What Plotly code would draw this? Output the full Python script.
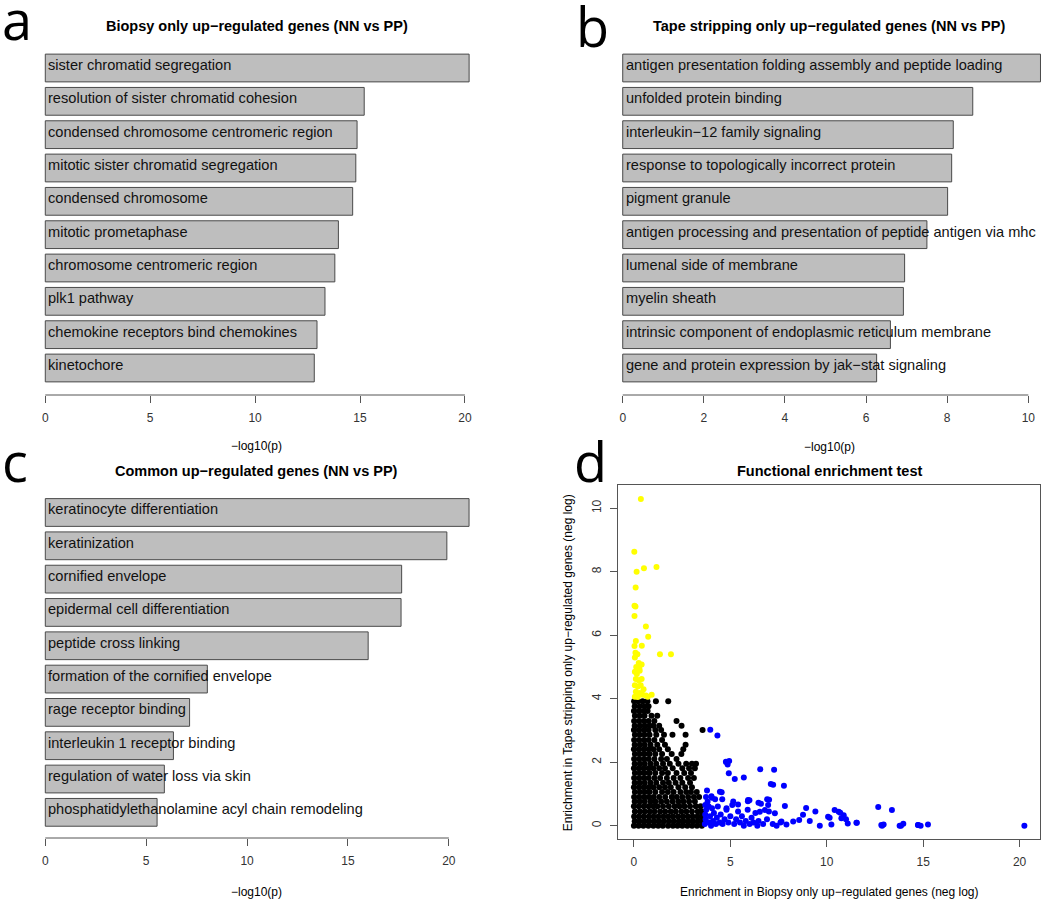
import plotly.graph_objects as go

# ---------------- data ----------------
a_labels = ["sister chromatid segregation", "resolution of sister chromatid cohesion",
            "condensed chromosome centromeric region", "mitotic sister chromatid segregation",
            "condensed chromosome", "mitotic prometaphase", "chromosome centromeric region",
            "plk1 pathway", "chemokine receptors bind chemokines", "kinetochore"]
a_values = [20.2, 15.2, 14.86, 14.8, 14.65, 13.97, 13.8, 13.33, 12.95, 12.82]
a_ticks = [0, 5, 10, 15, 20]

b_labels = ["antigen presentation folding assembly and peptide loading", "unfolded protein binding",
            "interleukin\u221212 family signaling", "response to topologically incorrect protein",
            "pigment granule", "antigen processing and presentation of peptide antigen via mhc",
            "lumenal side of membrane", "myelin sheath",
            "intrinsic component of endoplasmic reticulum membrane",
            "gene and protein expression by jak\u2212stat signaling"]
b_values = [10.3, 8.63, 8.15, 8.11, 8.01, 7.5, 6.95, 6.92, 6.6, 6.26]
b_ticks = [0, 2, 4, 6, 8, 10]

c_labels = ["keratinocyte differentiation", "keratinization", "cornified envelope",
            "epidermal cell differentiation", "peptide cross linking",
            "formation of the cornified envelope", "rage receptor binding",
            "interleukin 1 receptor binding", "regulation of water loss via skin",
            "phosphatidylethanolamine acyl chain remodeling"]
c_values = [21.0, 19.9, 17.66, 17.63, 16.0, 8.03, 7.15, 6.35, 5.9, 5.54]
c_ticks = [0, 5, 10, 15, 20]

d_xticks = [0, 5, 10, 15, 20]
d_yticks = [0, 2, 4, 6, 8, 10]

yellow_pts = [(0.36, 10.29), (0.02, 8.63), (0.14, 8.00), (0.52, 8.11), (1.17, 8.15), (0.09, 7.50),
              (0.03, 6.93), (0.08, 6.90), (0.03, 6.60), (0.62, 6.27), (0.74, 5.95), (0.10, 5.82),
              (0.03, 5.66), (0.41, 5.67), (0.08, 5.45), (0.18, 5.40), (0.05, 5.30), (1.35, 5.40),
              (1.92, 5.40), (0.40, 5.08), (0.25, 5.12), (0.05, 4.85), (0.15, 4.78), (0.30, 4.88),
              (0.10, 4.62), (0.25, 4.58), (0.40, 4.62), (0.05, 4.42), (0.20, 4.38), (0.35, 4.42),
              (0.50, 4.30), (0.10, 4.22), (0.30, 4.18), (0.45, 4.12), (0.62, 4.10), (0.05, 4.06),
              (0.20, 4.05), (0.72, 4.06), (0.92, 4.12), (0.12, 5.00), (0.28, 4.95)]

blue_pts = [(3.96, 3.02), (4.33, 2.84), (4.77, 2.01), (4.94, 2.04), (4.86, 1.93), (4.92, 1.65),
            (5.23, 1.47), (5.70, 1.52), (6.55, 1.78), (7.27, 1.76), (7.10, 1.31), (7.22, 1.29),
            (7.78, 1.26), (3.79, 1.11), (4.55, 1.05), (3.74, 0.90), (4.04, 0.88), (4.21, 0.83),
            (4.58, 0.83), (5.99, 0.80), (5.91, 0.77), (7.01, 0.82), (6.59, 0.69), (7.83, 0.62),
            (8.93, 0.56), (9.41, 0.45), (10.41, 0.49), (10.70, 0.41), (10.88, 0.33), (12.67, 0.59),
            (13.38, 0.49), (10.15, 0.25), (11.00, 0.20), (11.09, 0.07), (11.56, 0.09), (12.87, 0.00),
            (12.95, 0.04), (13.85, 0.00), (13.97, 0.06), (14.74, 0.02), (14.87, 0.00), (15.25, 0.04),
            (20.25, 0.00),
            (3.68, 0.05), (3.72, 0.20), (3.70, 0.35), (3.75, 0.50), (3.70, 0.65), (3.90, 0.10),
            (3.95, 0.30), (4.00, 0.00), (4.10, 0.15), (4.15, 0.40), (4.25, 0.05), (4.30, 0.25),
            (4.45, 0.10), (4.50, 0.35), (3.88, 0.60), (4.05, 0.55), (3.82, 0.75), (4.35, 0.60),
            (4.60, 0.05), (4.70, 0.20), (4.80, 0.50), (4.90, 0.10), (5.00, 0.30), (5.10, 0.65),
            (5.20, 0.05), (5.30, 0.20), (5.40, 0.45), (5.50, 0.10), (5.60, 0.30), (5.70, 0.00),
            (5.80, 0.15), (5.90, 0.50), (6.00, 0.05), (6.10, 0.25), (6.20, 0.10), (6.30, 0.40),
            (6.40, 0.00), (6.46, 0.15), (6.46, 0.72), (6.91, 0.83), (6.96, 0.65), (6.70, 0.05),
            (6.90, 0.20), (7.00, 0.45), (7.20, 0.05), (7.40, 0.00), (7.60, 0.10), (7.65, 0.13),
            (7.91, 0.04), (8.26, 0.13), (8.57, 0.18), (8.77, 0.34), (9.12, 0.15), (9.64, 0.00),
            (10.07, 0.28), (10.24, 0.04), (10.62, 0.44), (10.76, 0.23), (11.54, 0.09), (12.83, 0.02),
            (13.78, 0.00), (14.73, 0.02), (5.15, 0.76), (5.40, 0.67), (5.92, 0.81), (6.53, 0.44),
            (6.79, 0.49), (7.31, 0.39), (4.80, 0.55), (4.46, 1.07), (4.02, 0.93)]

black_row_y = [0.00, 0.14, 0.29, 0.45, 0.61, 0.76, 0.90, 1.06, 1.21, 1.35, 1.50, 1.66, 1.81, 1.95,
               2.10, 2.26, 2.41, 2.55, 2.70, 2.86, 3.01, 3.15, 3.30, 3.46, 3.61, 3.76, 3.92]
black_row_x = [
    [0.00, 0.24, 0.49, 0.75, 1.01, 1.26, 1.50, 1.77, 2.02, 2.26, 2.51, 2.77, 3.02, 3.27, 3.52],
    [0.04, 0.29, 0.55, 0.80, 1.06, 1.31, 1.56, 1.82, 2.07, 2.33, 2.57, 2.83, 3.08, 3.33, 3.56],
    [0.01, 0.26, 0.51, 0.77, 1.02, 1.27, 1.53, 1.78, 2.03, 2.29, 2.54, 2.79, 3.04, 3.29, 3.50],
    [0.05, 0.31, 0.56, 0.82, 1.07, 1.36, 1.62, 1.91, 2.17, 2.46, 2.72, 3.01, 3.31, 3.52],
    [0.00, 0.25, 0.51, 0.76, 1.01, 1.22, 1.51, 1.81, 2.11, 2.36, 2.62, 2.91, 3.21, 3.46],
    [0.04, 0.30, 0.56, 0.86, 1.11, 1.41, 1.71, 2.01, 2.31, 2.57, 2.86, 3.16],
    [0.01, 0.26, 0.51, 0.76, 1.02, 1.31, 1.62, 1.96, 2.22, 2.51, 2.81, 3.11, 3.38],
    [0.05, 0.31, 0.56, 0.81, 1.11, 1.46, 1.76, 2.06, 2.41, 2.71, 2.96, 3.26],
    [0.00, 0.26, 0.51, 0.76, 1.01, 1.31, 1.61, 1.91, 2.31, 2.66, 3.01],
    [0.04, 0.30, 0.56, 0.86, 1.16, 1.51, 1.81, 2.16, 2.51, 2.91],
    [0.01, 0.26, 0.51, 0.76, 1.06, 1.36, 1.71, 2.06, 2.41, 2.81, 3.11],
    [0.05, 0.30, 0.55, 0.81, 1.11, 1.46, 1.76, 2.21, 2.61, 2.96],
    [0.00, 0.25, 0.50, 0.76, 1.01, 1.31, 1.61, 2.01, 2.51, 2.86, 3.16],
    [0.04, 0.31, 0.56, 0.86, 1.16, 1.51, 1.86, 2.31, 2.71, 3.01, 3.22],
    [0.01, 0.26, 0.51, 0.76, 1.06, 1.41, 1.71, 2.21],
    [0.05, 0.30, 0.55, 0.81, 1.11, 1.46, 1.96, 2.46],
    [0.00, 0.25, 0.51, 0.76, 1.01, 1.31, 1.76, 2.56],
    [0.04, 0.31, 0.56, 0.86, 1.21, 1.61, 2.68],
    [0.01, 0.26, 0.51, 0.76, 1.06, 1.46],
    [0.05, 0.30, 0.55, 0.81, 1.16, 1.56, 2.00, 2.68],
    [0.00, 0.25, 0.51, 0.76, 1.11, 1.41, 3.56],
    [0.04, 0.31, 0.56, 0.81, 1.01, 1.31, 2.47],
    [0.01, 0.26, 0.51, 0.76, 1.06, 2.21],
    [0.05, 0.30, 0.55, 0.91, 1.21],
    [0.00, 0.25, 0.50, 0.71],
    [0.04, 0.30, 0.55, 0.76],
    [0.01, 0.21, 0.45, 0.70, 1.14, 1.78],
]

# ---------------- layout helpers (pixel -> paper) ----------------
W, H = 1050, 906
def fx(p):
    return p / W
def fy(p):
    return 1 - p / H

FONT = "Liberation Sans, Arial, Helvetica, sans-serif"
AX_COL = "#555555"
BAR_FILL = "#BEBEBE"

fig = go.Figure()

bar_panels = [
    (a_labels, a_values, "x", "y"),
    (b_labels, b_values, "x2", "y2"),
    (c_labels, c_values, "x3", "y3"),
]
for labels, values, xa, ya in bar_panels:
    fig.add_trace(go.Bar(
        y=labels, x=values, orientation="h", width=1 / 1.2,
        marker=dict(color=BAR_FILL, line=dict(color="#4a4a4a", width=1)),
        xaxis=xa, yaxis=ya, hoverinfo="x+y"))

black_x = [x for row in black_row_x for x in row]
black_y = [y for y, row in zip(black_row_y, black_row_x) for _ in row]
for pts_x, pts_y, col in [
    (black_x, black_y, "black"),
    ([p[0] for p in blue_pts], [p[1] for p in blue_pts], "#0000FF"),
    ([p[0] for p in yellow_pts], [p[1] for p in yellow_pts], "#FFFF00"),
]:
    fig.add_trace(go.Scatter(
        x=pts_x, y=pts_y, mode="markers", xaxis="x4", yaxis="y4",
        marker=dict(color=col, size=6, line=dict(width=0)), cliponaxis=False))

tickfont = dict(family=FONT, size=12, color="#333333")

def bar_xaxis(dom, rng, ticks, anchor):
    return dict(domain=dom, range=rng, anchor=anchor, tickvals=ticks,
                ticktext=[str(t) for t in ticks], ticks="outside", ticklen=7,
                tickcolor=AX_COL, tickwidth=1, showgrid=False, zeroline=False,
                showline=False, tickfont=tickfont, ticklabelstandoff=5, fixedrange=True)

def bar_yaxis(dom, rng, labels, anchor):
    return dict(domain=dom, range=rng, anchor=anchor, type="category",
                categoryorder="array", categoryarray=labels, visible=False, fixedrange=True)

fig.update_layout(
    width=W, height=H, margin=dict(l=0, r=0, t=0, b=0),
    paper_bgcolor="white", plot_bgcolor="white", showlegend=False,
    font=dict(family=FONT, color="black"),
    xaxis=bar_xaxis([fx(28.5), fx(485.9)], [-0.8, 21.0], a_ticks, "y"),
    yaxis=bar_yaxis([fy(395), fy(45)], [9.81, -0.69], a_labels, "x"),
    xaxis2=bar_xaxis([fx(606.5), fx(1048.6)], [-0.4, 10.5], b_ticks, "y2"),
    yaxis2=bar_yaxis([fy(395), fy(45)], [9.81, -0.69], b_labels, "x2"),
    xaxis3=bar_xaxis([fx(28.35), fx(486.0)], [-0.84, 21.84], c_ticks, "y3"),
    yaxis3=bar_yaxis([fy(838), fy(489.5)], [9.77, -0.69], c_labels, "x3"),
    xaxis4=dict(domain=[fx(618.3), fx(1040)], range=[-0.81, 21.06], anchor="y4",
                tickvals=d_xticks, ticktext=[str(t) for t in d_xticks], ticks="outside",
                ticklen=7, tickcolor=AX_COL, showline=True, mirror=True, linecolor=AX_COL,
                linewidth=1, showgrid=False, zeroline=False, tickfont=tickfont,
                ticklabelstandoff=5, fixedrange=True),
    yaxis4=dict(domain=[fy(839), fy(485)], range=[-0.42, 10.73], anchor="x4",
                tickvals=d_yticks, ticktext=[str(t) for t in d_yticks], ticks="outside",
                ticklen=7, tickcolor=AX_COL, showline=True, mirror=True, linecolor=AX_COL,
                linewidth=1, showgrid=False, zeroline=False, tickfont=tickfont,
                tickangle=-90, ticklabelstandoff=5, fixedrange=True),
)

# axis lines spanning the tick range for the bar panels (R style)
for ticks, xa, ya in [(a_ticks, "x", "y"), (b_ticks, "x2", "y2"), (c_ticks, "x3", "y3")]:
    fig.add_shape(type="line", xref=xa, yref=ya + " domain", x0=ticks[0], x1=ticks[-1],
                  y0=0, y1=0, line=dict(color=AX_COL, width=1))

ann = []
# bar labels
for labels, xa, ya in [(a_labels, "x", "y"), (b_labels, "x2", "y2"), (c_labels, "x3", "y3")]:
    for lab in labels:
        ann.append(dict(x=0, y=lab, xref=xa, yref=ya, text=lab, showarrow=False,
                        xanchor="left", yanchor="middle", xshift=1, yshift=3,
                        font=dict(family=FONT, size=14.6, color="#111111")))

def paper_text(x, y, text, size, bold=False, angle=0, family=FONT, xanchor="center"):
    return dict(x=fx(x), y=fy(y), xref="paper", yref="paper",
                text=("<b>%s</b>" % text) if bold else text, showarrow=False,
                xanchor=xanchor, yanchor="middle", textangle=angle,
                font=dict(family=family, size=size, color="black"))

ann += [
    paper_text(257, 26.5, "Biopsy only up\u2212regulated genes (NN vs PP)", 14.5, bold=True),
    paper_text(829, 26.5, "Tape stripping only up\u2212regulated genes (NN vs PP)", 14.5, bold=True),
    paper_text(256, 471, "Common up\u2212regulated genes (NN vs PP)", 14.5, bold=True),
    paper_text(829.5, 471, "Functional enrichment test", 14.5, bold=True),
    paper_text(256, 446, "\u2212log10(p)", 12),
    paper_text(829, 446.7, "\u2212log10(p)", 12),
    paper_text(256, 891.7, "\u2212log10(p)", 12),
    paper_text(829, 891.7, "Enrichment in Biopsy only up\u2212regulated genes (neg log)", 12),
    paper_text(568.3, 663, "Enrichment in Tape stripping only up\u2212regulated genes (neg log)", 12, angle=-90),
    paper_text(0, 19, "a", 54, family="Open Sans", xanchor="left"),
    paper_text(574, 26, "b", 54, family="Open Sans", xanchor="left"),
    paper_text(0, 461, "c", 54, family="Open Sans", xanchor="left"),
    paper_text(572, 461, "d", 54, family="Open Sans", xanchor="left"),
]
fig.update_layout(annotations=ann)

fig.write_html("out.html", config={"displayModeBar": False},
               post_script="document.body.style.margin='0';document.body.style.padding='0';")
